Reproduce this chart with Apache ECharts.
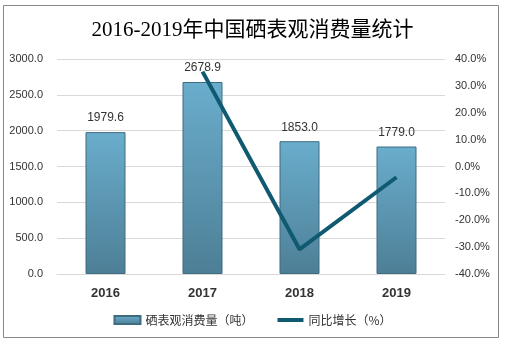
<!DOCTYPE html>
<html><head><meta charset="utf-8">
<script src="https://cdn.jsdelivr.net/npm/echarts@6/dist/echarts.min.js"></script>
<style>html,body{margin:0;padding:0;background:#fff}#c{width:505px;height:343px}</style>
</head><body><div id="c"></div>
<script>
var categories = ['2016', '2017', '2018', '2019'];
var consumption = [1979.6, 2678.9, 1853.0, 1779.0];
var growth = [null, 35.3, -30.8, -4.0];
var leftTicks = [0, 500, 1000, 1500, 2000, 2500, 3000];
var rightTicks = [-40, -30, -20, -10, 0, 10, 20, 30, 40];

var chart = echarts.init(document.getElementById('c'));
chart.setOption({
  animation: false,
  title: {
    text: '2016-2019年中国硒表观消费量统计',
    left: 'center', top: 15,
    textStyle: {fontFamily: '"Liberation Serif","Noto Sans CJK SC",serif', fontSize: 21, fontWeight: 'normal', color: '#000'}
  },
  graphic: [{type: 'rect', shape: {x: 3.5, y: 5.5, width: 495, height: 332}, style: {fill: 'none', stroke: '#888', lineWidth: 1}, silent: true}],
  legend: {
    bottom: 12, left: 'center', itemGap: 24, itemWidth: 26, itemHeight: 8,
    textStyle: {fontFamily: '"Noto Sans CJK SC",sans-serif', fontSize: 12, color: '#333'},
    data: [
      {name: '硒表观消费量（吨）', icon: 'rect'},
      {name: '同比增长（%）', icon: 'path://M0,0M0,2h26v4h-26zM26,8', itemStyle: {color: '#0f5a70'}}
    ]
  },
  grid: {left: 57, right: 60, top: 59, bottom: 69},
  xAxis: {
    type: 'category', data: categories,
    axisTick: {show: false},
    axisLine: {show: true, lineStyle: {color: '#d9d9d9'}},
    axisLabel: {fontWeight: 'bold', fontSize: 13, color: '#333', margin: 13, fontFamily: 'Arial, "Liberation Sans", sans-serif'}
  },
  yAxis: [{
    type: 'value', min: 0, max: 3000, interval: 500,
    axisLine: {show: false}, axisTick: {show: false},
    splitLine: {lineStyle: {color: '#d9d9d9'}},
    axisLabel: {formatter: function(v){return v.toFixed(1);}, fontSize: 11, color: '#333', margin: 14}
  }, {
    type: 'value', min: -40, max: 40, interval: 10,
    axisLine: {show: false}, axisTick: {show: false},
    splitLine: {show: false},
    axisLabel: {formatter: function(v){return v.toFixed(1) + '%';}, fontSize: 11, color: '#333', margin: 10}
  }],
  series: [{
    name: '硒表观消费量（吨）', type: 'bar', data: consumption, barWidth: 40,
    itemStyle: {
      color: new echarts.graphic.LinearGradient(0, 0, 0, 1, [{offset: 0, color: '#6aadcc'}, {offset: 1, color: '#4d7f96'}]),
      borderColor: '#3e6b80', borderWidth: 1
    },
    label: {show: true, position: 'top', formatter: function(p){return p.value.toFixed(1);}, fontSize: 12, color: '#333', distance: 8}
  }, {
    name: '同比增长（%）', type: 'line', yAxisIndex: 1, data: growth,
    symbol: 'none', lineStyle: {color: '#0f5a70', width: 4}, itemStyle: {color: '#0f5a70'}
  }]
});
</script></body></html>
